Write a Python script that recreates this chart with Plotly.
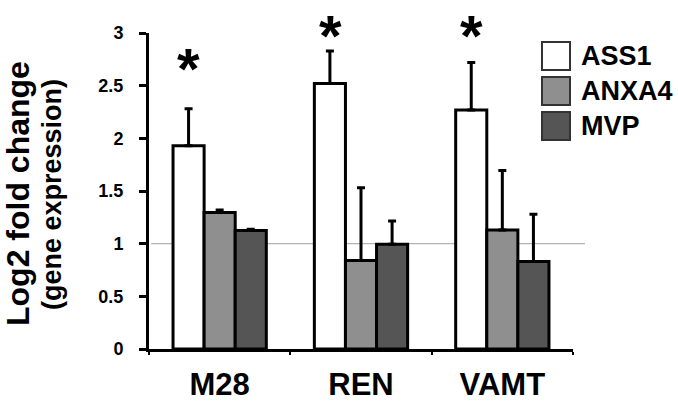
import plotly.graph_objects as go

categories = ["M28", "REN", "VAMT"]
series_names = ["ASS1", "ANXA4", "MVP"]
ass1 = [1.93, 2.52, 2.27]
ass1_err = [0.35, 0.31, 0.45]
anxa4 = [1.295, 0.84, 1.13]
anxa4_err = [0.025, 0.69, 0.565]
mvp = [1.125, 0.995, 0.83]
mvp_err = [0.013, 0.22, 0.45]
significant = [True, True, True]
y_ticks = [0, 0.5, 1, 1.5, 2, 2.5, 3]
y_tick_labels = ["0", "0.5", "1", "1.5", "2", "2.5", "3"]

colors = ["#ffffff", "#8f8f8f", "#555555"]
values = [ass1, anxa4, mvp]
errors = [ass1_err, anxa4_err, mvp_err]

FONT = "Liberation Sans, Arial, Helvetica, sans-serif"
Y_MAX = 3

W, H = 678, 401
L, R, T, B = 149, 105, 33, 52
plot_w = W - L - R
plot_h = H - T - B

def px_to_paper_x(px):
    return (px - L) / plot_w

def px_to_paper_y(py):
    return (H - B - py) / plot_h

fig = go.Figure()
for name, vals, errs, col in zip(series_names, values, errors, colors):
    fig.add_trace(go.Bar(
        x=categories, y=vals, name=name,
        marker=dict(color=col, line=dict(color="black", width=3)),
        error_y=dict(type="data", array=errs, symmetric=False,
                     arrayminus=[0] * len(errs),
                     color="black", thickness=3, width=4),
        showlegend=False,
    ))

# reference line at y = 1
fig.add_shape(type="line", xref="paper", yref="y",
              x0=0.005, x1=px_to_paper_x(585), y0=1, y1=1,
              line=dict(color="#b4b4b4", width=1.2), layer="below")

annotations = []
# significance asterisks (above the ASS1 bars), kept inside the page
star_cap = px_to_paper_y(35)
for cat, v, e, sig in zip(categories, ass1, ass1_err, significant):
    if sig:
        annotations.append(dict(
            x=cat, y=min((v + e + 0.38) / Y_MAX, star_cap), xref="x", yref="paper",
            text="*", showarrow=False, xshift=-31,
            font=dict(family=FONT, size=58, color="black", weight="bold"),
            xanchor="center", yanchor="middle",
        ))

# custom legend
box_x0, box_x1 = 542, 570
row_tops = [42, 77, 112]
for name, col, top in zip(series_names, colors, row_tops):
    fig.add_shape(type="rect", xref="paper", yref="paper",
                  x0=px_to_paper_x(box_x0), x1=px_to_paper_x(box_x1),
                  y0=px_to_paper_y(top + 28), y1=px_to_paper_y(top),
                  fillcolor=col, line=dict(color="#333333", width=2))
    annotations.append(dict(
        x=px_to_paper_x(579), y=px_to_paper_y(top + 14), xref="paper", yref="paper",
        text=name, showarrow=False, xanchor="left", yanchor="middle",
        font=dict(family=FONT, size=27, color="black", weight="bold"),
    ))

# y-axis title (two lines)
annotations.append(dict(
    x=px_to_paper_x(18), y=px_to_paper_y(194), xref="paper", yref="paper",
    text="Log2 fold change", textangle=-90, showarrow=False,
    xanchor="center", yanchor="middle",
    font=dict(family=FONT, size=32, color="black", weight="bold"),
))
annotations.append(dict(
    x=px_to_paper_x(52), y=px_to_paper_y(195), xref="paper", yref="paper",
    text="(gene expression)", textangle=-90, showarrow=False,
    xanchor="center", yanchor="middle",
    font=dict(family=FONT, size=27, color="black", weight="bold"),
))

fig.update_layout(
    width=W, height=H,
    margin=dict(l=L, r=R, t=T, b=B, pad=0, autoexpand=False),
    paper_bgcolor="white", plot_bgcolor="white",
    barmode="group", bargap=0.34, bargroupgap=0,
    annotations=annotations,
    font=dict(family=FONT, color="black"),
)
fig.update_xaxes(
    automargin=False,
    showline=True, linecolor="black", linewidth=3,
    ticks="outside", tickson="boundaries", ticklen=3, tickwidth=2, tickcolor="black",
    tickfont=dict(family=FONT, size=31, color="black", weight="bold"),
    ticklabelstandoff=6,
    showgrid=False, zeroline=False,
)
fig.update_yaxes(
    automargin=False,
    range=[0, Y_MAX], tickvals=y_ticks, ticktext=y_tick_labels,
    showline=True, linecolor="black", linewidth=3,
    ticks="outside", ticklen=7, tickwidth=3, tickcolor="black",
    tickfont=dict(family=FONT, size=18, color="black", weight="bold"),
    ticklabelstandoff=12,
    showgrid=False, zeroline=False,
)

fig.write_html(
    "out.html",
    config={"displayModeBar": False},
    post_script="document.body.style.margin='0px';document.body.style.overflow='hidden';",
)
